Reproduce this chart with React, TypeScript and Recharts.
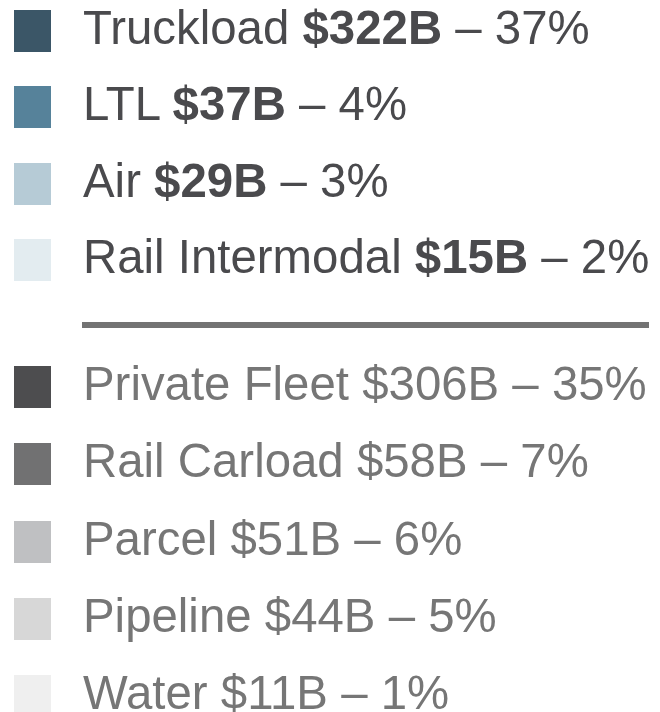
import React from "react";
import { PieChart, Pie, Cell, Legend } from "recharts";

// for-hire modes (highlighted group)
const hireModes = ["Truckload", "LTL", "Air", "Rail Intermodal"];
const hireSpend = [322, 37, 29, 15]; // $B
const hireShare = [37, 4, 3, 2]; // %
const hireColors = ["#3b5667", "#56829a", "#b6cbd6", "#e3ecf0"];

// other modes (muted group)
const otherModes = ["Private Fleet", "Rail Carload", "Parcel", "Pipeline", "Water"];
const otherSpend = [306, 58, 51, 44, 11];
const otherShare = [35, 7, 6, 5, 1];
const otherColors = ["#4d4d4f", "#717172", "#bfc0c2", "#d7d7d7", "#efefef"];

const FONT = "'Liberation Sans', Arial, sans-serif";

const data = [
    ...hireModes.map((name, i) => ({ name, value: hireSpend[i], share: hireShare[i], color: hireColors[i], group: "hire" })),
    ...otherModes.map((name, i) => ({ name, value: otherSpend[i], share: otherShare[i], color: otherColors[i], group: "other" })),
];

function Row({ top, entry, bold }: { top: number; entry: (typeof data)[number]; bold: boolean }) {
    const textColor = bold ? "#4a4a4d" : "#767676";
    return (
        <div style={{ position: "absolute", left: 0, top, height: 42, width: 660 }}>
            <div style={{ position: "absolute", left: 14, top: 0, width: 37, height: 42, background: entry.color }} />
            <div
                style={{
                    position: "absolute",
                    left: 83,
                    top: -4,
                    fontFamily: FONT,
                    fontSize: 49,
                    lineHeight: "42px",
                    color: textColor,
                    whiteSpace: "nowrap",
                    transform: "scaleX(0.967)",
                    transformOrigin: "0 0",
                }}
            >
                {entry.name}{" "}
                {bold ? <b>${entry.value}B</b> : <span>${entry.value}B</span>} – {entry.share}%
            </div>
        </div>
    );
}

function ModeLegend() {
    const hire = data.filter((d) => d.group === "hire");
    const other = data.filter((d) => d.group === "other");
    return (
        <div style={{ position: "relative", width: 660, height: 712 }}>
            {hire.map((d, i) => (
                <Row key={d.name} top={10 + i * 76.33} entry={d} bold />
            ))}
            <div style={{ position: "absolute", left: 82, top: 322, width: 567, height: 6, background: "#737373" }} />
            {other.map((d, i) => (
                <Row key={d.name} top={366 + i * 77.25} entry={d} bold={false} />
            ))}
        </div>
    );
}

export default function App() {
    return (
        <div style={{ margin: "-8px -8px 0 -8px", width: 660, height: 712, overflow: "hidden", background: "#fff" }}>
            <PieChart width={660} height={712} margin={{ top: 0, right: 0, bottom: 0, left: 0 }}>
                {/* the pie itself sits outside this crop; only its legend is shown */}
                <Pie data={data} dataKey="value" nameKey="name" cx={-500} cy={-500} outerRadius={0} stroke="none" isAnimationActive={false}>
                    {data.map((d) => (
                        <Cell key={d.name} fill={d.color} />
                    ))}
                </Pie>
                <Legend
                    content={() => <ModeLegend />}
                    wrapperStyle={{ left: 0, top: 0, width: 660, height: 712 }}
                />
            </PieChart>
        </div>
    );
}
